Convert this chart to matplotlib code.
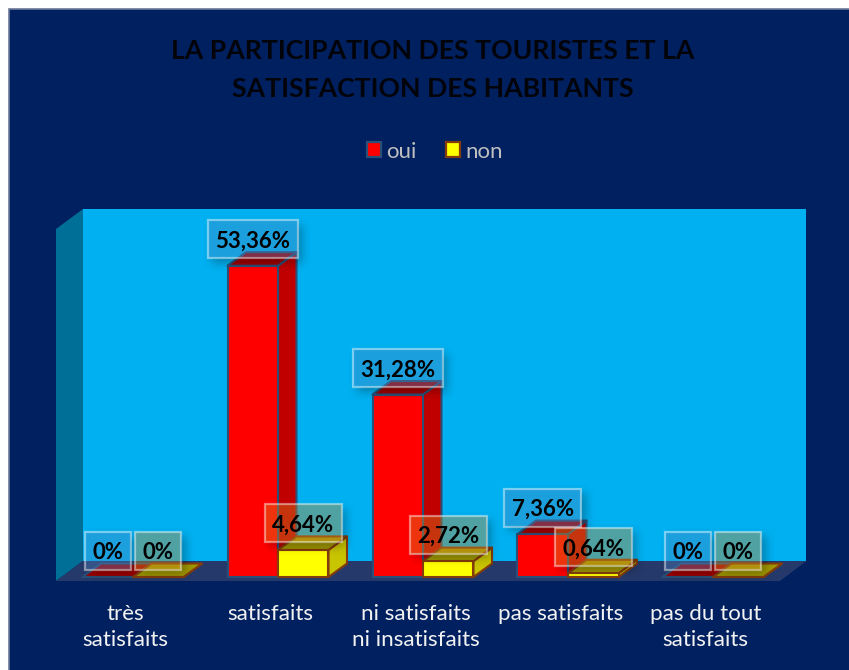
import numpy as np
import matplotlib
matplotlib.use("Agg")
import matplotlib.pyplot as plt
from matplotlib.patches import Polygon, Rectangle, Patch

categories = ["très\nsatisfaits", "satisfaits", "ni satisfaits\nni insatisfaits", "pas satisfaits", "pas du tout\nsatisfaits"]
oui = [0, 53.36, 31.28, 7.36, 0]
non = [0, 4.64, 2.72, 0.64, 0]
oui_labels = ["0%", "53,36%", "31,28%", "7,36%", "0%"]
non_labels = ["0%", "4,64%", "2,72%", "0,64%", "0%"]
title = "LA PARTICIPATION DES TOURISTES ET LA\nSATISFACTION DES HABITANTS"

W, H = 849, 670
plt.rcParams["font.family"] = ["Lato", "DejaVu Sans"]
fig = plt.figure(figsize=(W / 100, H / 100), dpi=100, facecolor="white")
NAVY = "#002060"
fig.patches.append(Rectangle((9 / W, -0.02), 1.02, 1.02 - 9 / H, transform=fig.transFigure,
                             fc=NAVY, ec="#6C7A9A", lw=1.2, zorder=-5))

# plot area: five categories 145 px wide, value axis 0-60
L, R, B, T = 60.5, 785.5, 577, 227
ax = fig.add_axes([L / W, 1 - B / H, (R - L) / W, (B - T) / H])
ax.patch.set_alpha(0)
ax.set_xlim(-0.5, 4.5)
ax.set_ylim(0, 60)
PX = 5 / (R - L)      # data per pixel, x
PY = 60 / (B - T)     # data per pixel, y


def xd(px):
    return -0.5 + (px - L) * PX


def yd(py):
    return (B - py) * PY


def poly(pts, z, **kw):
    ax.add_patch(Polygon(pts, closed=True, clip_on=False, zorder=z, **kw))


# walls and floor
poly([(xd(83), yd(209)), (xd(806.5), yd(209)), (xd(806.5), yd(561)), (xd(83), yd(561))], 1, fc="#00B0F0", ec="none")
poly([(xd(56), yd(229)), (xd(83), yd(209)), (xd(83), yd(561)), (xd(56), yd(581))], 1, fc="#006F97", ec="none")
poly([(xd(56), yd(581)), (xd(83), yd(561)), (xd(806.5), yd(561)), (xd(780), yd(581))], 1, fc="#25396A", ec="none")

BW = 50.5 * PX
DX, DY = 18.5 * PX, 13.5 * PY


def bar3d(x0, v, front, side, top, edge, z):
    x1 = x0 + BW
    poly([(x1, 0), (x1 + DX, DY), (x1 + DX, v + DY), (x1, v)], z, fc=side, ec=edge, lw=1.5, joinstyle="round")
    poly([(x0, v), (x1, v), (x1 + DX, v + DY), (x0 + DX, v + DY)], z, fc=top, ec=edge, lw=1.5, joinstyle="round")
    poly([(x0, 0), (x1, 0), (x1, v), (x0, v)], z, fc=front, ec=edge, lw=1.5, joinstyle="round")


xs = np.arange(len(categories))
for i in xs:
    bar3d(i - BW, oui[i], "#FF0000", "#C00000", "#A00000", "#2A5078", 3 + i)
    bar3d(i, non[i], "#FFFF00", "#C8C400", "#A09800", "#843C0C", 3 + i + 0.5)

# data label boxes
BOX_W = {2: 46, 5: 77, 6: 90}
BOX_H = 38
GAP = 7.5
boxes = []
for i in xs:
    for cx, v, lab, fill in ((i - BW / 2, oui[i], oui_labels[i], (0.31, 0.51, 0.74, 0.36)),
                             (i + BW / 2, non[i], non_labels[i], (0.82, 0.54, 0.14, 0.38))):
        w = BOX_W[len(lab)] * PX
        y0 = v + GAP * PY
        ax.add_patch(Rectangle((cx - w / 2, y0), w, BOX_H * PY, fc=fill, ec=(1, 1, 1, 0.45), lw=1.6,
                               clip_on=False, zorder=20))
        ax.text(cx, y0 + BOX_H * PY / 2, lab, ha="center", va="center_baseline", fontsize=16,
                fontweight="bold", color="black", zorder=21, clip_on=False)
        boxes.append((cx - w / 2, y0, w, BOX_H * PY))


def box_pixels(b, off):
    x0, y0, w, h = b
    px0 = int(L + (x0 + 0.5) / PX) + off
    py1 = int(B - y0 / PY) + off
    return px0, int(px0 + w / PX), int(py1 - h / PY), py1


# soft shadow of the label boxes, computed on the pixel grid
mask = np.zeros((H, W))
for b in boxes:
    a, c, d, e = box_pixels(b, 5)
    mask[d:e, a:c] = 1
kernel = np.ones(9) / 9
for _ in range(3):
    mask = np.apply_along_axis(lambda r: np.convolve(r, kernel, mode="same"), 0, mask)
    mask = np.apply_along_axis(lambda r: np.convolve(r, kernel, mode="same"), 1, mask)
for b in boxes:
    a, c, d, e = box_pixels(b, 0)
    mask[d:e, a:c] = 0
rgba = np.zeros((H, W, 4))
rgba[..., 3] = mask * 0.28
ax.imshow(rgba, extent=(xd(0), xd(W), yd(H), yd(0)), aspect="auto", zorder=15, clip_on=False,
          interpolation="nearest")
ax.set_xlim(-0.5, 4.5)
ax.set_ylim(0, 60)

# axes text
for s in ax.spines.values():
    s.set_visible(False)
ax.set_yticks([])
ax.set_xticks(xs - 7.5 * PX, categories, color="#F2F2F2", fontsize=16.1, linespacing=1.36)
ax.tick_params(axis="x", length=0, pad=19.5)

fig.suptitle(title, x=433 / W, y=1 - 70 / H, ha="center", va="center", fontsize=19.2, fontweight="bold",
             color="#03030A", linespacing=1.66)

handles = [Patch(fc="#FF0000", ec="#2A5078", lw=1.6, label="oui"),
           Patch(fc="#FFFF00", ec="#843C0C", lw=1.6, label="non")]
fig.legend(handles=handles, loc="center", bbox_to_anchor=(435 / W, 1 - 151.5 / H), ncols=2, frameon=False,
           fontsize=16, labelcolor="#BFBFBF", handlelength=0.64, handleheight=0.64,
           handletextpad=0.24, columnspacing=1.3)

fig.savefig("out.png", dpi=100, facecolor="white")
